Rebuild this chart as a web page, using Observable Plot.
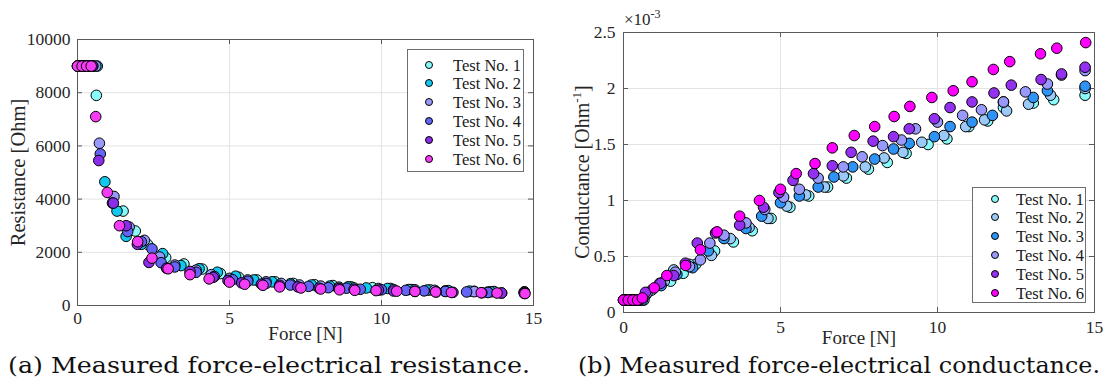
<!DOCTYPE html>
<html><head><meta charset="utf-8">
<script src="https://cdn.jsdelivr.net/npm/d3@7"></script>
<script src="https://cdn.jsdelivr.net/npm/@observablehq/plot@0.6"></script>
<style>
html,body{margin:0;padding:0;background:#fff;}
body{width:1109px;height:390px;overflow:hidden;position:relative;font-family:"Liberation Serif",serif;}
#left{position:absolute;left:0;top:0;}
#right{position:absolute;left:555px;top:0;}
svg g[aria-label$="tick label"] text{font-size:17.5px !important;font-family:"Liberation Serif",serif !important;}
.legend{position:absolute;border:1px solid #6e6e6e;background:#fff;box-sizing:border-box;}
.legend .row{position:absolute;left:0;height:18px;line-height:18px;font:16.5px "Liberation Serif",serif;color:#1a1a1a;white-space:nowrap;}
.legend .mk{position:absolute;width:6px;height:6px;border:1px solid #000;border-radius:50%;top:5px;}
.cap{position:absolute;top:352px;height:26px;line-height:26px;font:23px "DejaVu Serif",serif;color:#111;white-space:nowrap;transform-origin:left center;}
</style>
</head><body>
<div id="left"></div><div id="right"></div>
<div class="cap" id="capA">(a) Measured force-electrical resistance.</div>
<div class="cap" id="capB">(b) Measured force-electrical conductance.</div>
<script>
// ---------- data ----------
const tests = ["Test No. 1","Test No. 2","Test No. 3","Test No. 4","Test No. 5","Test No. 6"];
const colorsResistance = ["#88fafa","#11c8ee","#9999fb","#6464f6","#8a2eea","#f53cf5"];
const colorsConductance = ["#88fafa","#9ccaf8","#2f93f5","#9999fb","#9430f0","#ff00ff"];
const forceTicks = [0,5,10,15];
const resistanceTicks = [0,2000,4000,6000,8000,10000];
const conductanceTicks = [0,0.5,1,1.5,2,2.5]; // x 10^-3

// Force [N]
const force1 = [0.1,0.3,0.5,0.62,1.5,1.9,2.3,2.9,3.5,4.1,4.7,5.3,5.9,6.5,7.1,7.8,8.4,9.0,9.7,10.3,11.0,11.6,12.1,13.05,13.7,14.7];
const force2 = [0,0.2,0.4,0.65,0.9,1.3,1.6,2.1,2.8,3.4,4.0,4.6,5.2,5.8,6.4,7.0,7.7,8.3,8.9,9.5,10.2,10.9,11.5,12.2,12.9,13.6,14.7];
const force3 = [0.05,0.25,0.45,0.6,0.72,1.2,1.7,2.2,2.7,3.2,3.9,4.4,5.0,5.6,6.2,6.7,7.3,8.0,8.6,9.1,9.9,10.4,11.1,11.75,12.1,13.05,13.5,14.7];
const force4 = [0,0.15,0.3,0.5,0.75,1.15,1.65,2.1,2.45,2.75,3.2,3.9,4.5,5.1,5.6,6.2,7.0,7.6,8.25,8.85,9.3,10.0,10.8,11.4,12.1,12.8,13.5,13.95,14.7];
const force5 = [0.05,0.2,0.35,0.5,0.7,1.18,1.6,1.97,2.35,2.93,3.7,4.46,4.95,5.4,6.05,6.65,7.25,7.95,8.6,9.1,9.9,10.4,11.1,11.8,12.35,13.3,13.95,14.7];
const force6 = [0,0.15,0.3,0.45,0.6,0.98,1.38,1.98,2.45,2.98,3.7,4.33,5.0,5.5,6.1,6.65,7.35,8.0,8.62,9.12,9.82,10.5,11.1,11.78,12.3,13.28,13.8,14.72];

// Resistance [Ohm]
const resistance1 = [9000,9000,9000,7900,3550,2800,2300,1800,1560,1370,1200,1060,960,890,830,780,750,700,670,640,600,585,550,535,525,515];
const resistance2 = [9000,9000,9000,9000,4650,3550,2600,2300,1950,1500,1380,1250,1100,960,890,820,770,730,700,660,640,600,580,560,540,515,500];
const resistance3 = [9000,9000,9000,9000,6100,4100,2950,2450,1820,1520,1330,1160,1020,960,890,830,770,730,690,660,640,600,590,570,530,520,505,495];
const resistance4 = [9000,9000,9000,9000,5700,3850,2780,2400,2130,1610,1450,1250,1090,970,910,830,770,720,670,650,610,590,570,550,530,510,490,470,460];
const resistance5 = [9000,9000,9000,9000,5450,3850,3000,2300,1620,1400,1280,1060,940,850,800,760,700,650,640,610,580,545,530,510,495,480,470,455];
const resistance6 = [9000,9000,9000,9000,7100,4250,3000,2400,1780,1380,1160,1000,880,800,760,700,660,620,590,570,560,540,530,510,490,480,470,450];

// Conductance [Ohm^-1] x 10^-3
const conductance1 = [0.111,0.111,0.111,0.126,0.28,0.35,0.43,0.55,0.63,0.73,0.84,0.94,1.04,1.12,1.2,1.28,1.34,1.42,1.5,1.55,1.66,1.71,1.83,1.87,1.9,1.94];
const conductance2 = [0.111,0.111,0.111,0.111,0.2,0.28,0.38,0.43,0.51,0.66,0.76,0.84,0.95,1.05,1.12,1.22,1.3,1.38,1.43,1.52,1.58,1.66,1.72,1.8,1.86,1.94,2.0];
const conductance3 = [0.111,0.111,0.111,0.111,0.16,0.24,0.34,0.4,0.55,0.66,0.75,0.86,0.98,1.04,1.12,1.21,1.3,1.37,1.46,1.51,1.57,1.66,1.7,1.76,1.88,1.92,1.98,2.02];
const conductance4 = [0.111,0.111,0.111,0.111,0.175,0.26,0.36,0.41,0.47,0.62,0.69,0.8,0.92,1.03,1.1,1.2,1.3,1.39,1.49,1.54,1.64,1.7,1.76,1.81,1.88,1.97,2.04,2.12,2.16];
const conductance5 = [0.111,0.111,0.111,0.111,0.18,0.26,0.33,0.44,0.62,0.71,0.78,0.94,1.07,1.18,1.24,1.31,1.43,1.53,1.57,1.64,1.73,1.83,1.88,1.96,2.03,2.08,2.13,2.19];
const conductance6 = [0.111,0.111,0.111,0.111,0.13,0.22,0.33,0.42,0.56,0.72,0.86,1.0,1.1,1.24,1.33,1.47,1.58,1.66,1.75,1.84,1.92,1.98,2.06,2.17,2.24,2.31,2.36,2.41];

const forces = [force1,force2,force3,force4,force5,force6];
const resistances = [resistance1,resistance2,resistance3,resistance4,resistance5,resistance6];
const conductances = [conductance1,conductance2,conductance3,conductance4,conductance5,conductance6];

function table(values){
  return tests.flatMap((t,i)=>forces[i].map((f,j)=>({test:t, force:f, value:values[i][j]})));
}
const resData = table(resistances);
const condData = table(conductances);

// ---------- charts ----------
const GRID = "#e3e3e3", AX = "#5a5a5a", TXT = "#262626";
function makeChart(cfg){
  const plotW = cfg.width - cfg.ml - cfg.mr;
  const plotH = cfg.height - cfg.mt - cfg.mb;
  const tk = 5;
  return Plot.plot({
    width: cfg.width, height: cfg.height,
    marginLeft: cfg.ml, marginRight: cfg.mr, marginTop: cfg.mt, marginBottom: cfg.mb,
    style: {fontFamily:"Liberation Serif", fontSize:"17px", color:TXT, background:"transparent", overflow:"visible"},
    x: {domain:[0,15]},
    y: {domain: cfg.ydomain},
    color: {type:"ordinal", domain: tests, range: cfg.colors},
    marks: [
      Plot.gridX(forceTicks.slice(1,-1), {stroke:GRID, strokeOpacity:1}),
      Plot.gridY(cfg.yticks.slice(1,-1), {stroke:GRID, strokeOpacity:1}),
      Plot.ruleX(forceTicks, {insetTop: plotH - tk, stroke:AX}),
      Plot.ruleX(forceTicks, {insetBottom: plotH - tk, stroke:AX}),
      Plot.ruleY(cfg.yticks, {insetRight: plotW - tk, stroke:AX}),
      Plot.ruleY(cfg.yticks, {insetLeft: plotW - tk, stroke:AX}),
      Plot.frame({stroke:AX}),
      Plot.axisX(forceTicks, {tickSize:0, tickPadding:cfg.xpad, label:null, fontSize:17.5, fill:TXT}),
      Plot.axisY(cfg.yticks, {tickSize:0, tickPadding:cfg.ypad, label:null, fontSize:17.5, fill:TXT, tickFormat: d=>String(d)}),
      Plot.dot(cfg.data, {x:"force", y:"value", fill:"test", r:5.3, stroke:"#000", strokeWidth:1}),
      Plot.text(["Force [N]"], {frameAnchor:"bottom", lineAnchor:"middle", textAnchor:"middle", dy: cfg.xlabDy, fontSize:19, fill:TXT}),
      ...(cfg.ylabel ? [Plot.text([cfg.ylabel], {frameAnchor:"left", lineAnchor:"middle", textAnchor:"middle", dx: cfg.ylabDx, rotate:-90, fontSize:20.5, fill:TXT})] : [])
    ]
  });
}

const leftSvg = makeChart({width:555, height:345, ml:77, mr:22, mt:39, mb:40, ydomain:[0,10000], yticks:resistanceTicks,
  colors:colorsResistance, data:resData, xpad:6, ypad:7, xlabDy:28, ylabel:"Resistance [Ohm]", ylabDx:-59});
document.getElementById("left").appendChild(leftSvg);

const rightSvg = makeChart({width:554, height:345, ml:68, mr:15, mt:32, mb:33, ydomain:[0,2.5], yticks:conductanceTicks,
  colors:colorsConductance, data:condData, xpad:8, ypad:8, xlabDy:25, ylabel:null});
document.getElementById("right").appendChild(rightSvg);

// y label with superscript and exponent note on the right chart
const rs = d3.select(rightSvg);
const yl = rs.append("text").attr("transform","translate(28,172) rotate(-90)").attr("text-anchor","middle")
  .attr("dy","0.32em").attr("font-family","Liberation Serif").attr("font-size",20).attr("fill",TXT);
yl.append("tspan").text("Conductance [Ohm");
yl.append("tspan").attr("font-size",13).attr("dy",-8).text("-1");
yl.append("tspan").attr("dy",8).text("]");
const ex = rs.append("text").attr("x",69).attr("y",25).attr("text-anchor","start")
  .attr("font-family","Liberation Serif").attr("font-size",17).attr("fill",TXT);
ex.append("tspan").text("\u00d710");
ex.append("tspan").attr("font-size",12).attr("dy",-7).text("-3");

// ---------- legends ----------
function legend(box, colors){
  const el = document.createElement("div");
  el.className = "legend";
  Object.assign(el.style, {left:box.x+"px", top:box.y+"px", width:box.w+"px", height:box.h+"px"});
  tests.forEach((t,i)=>{
    const row = document.createElement("div");
    row.className = "row";
    row.style.top = (box.first + i*box.step - 9) + "px";
    const mk = document.createElement("span");
    mk.className = "mk"; mk.style.left = (box.mx-4)+"px"; mk.style.background = colors[i];
    const tx = document.createElement("span");
    tx.style.position="absolute"; tx.style.left = box.tx+"px"; tx.textContent = t;
    row.appendChild(mk); row.appendChild(tx); el.appendChild(row);
  });
  document.body.appendChild(el);
}
legend({x:407,y:49,w:117,h:123,first:14.5,step:18.8,mx:21,tx:45}, colorsResistance);
legend({x:972,y:187,w:114,h:116,first:10.5,step:18.8,mx:22,tx:43}, colorsConductance);

// ---------- captions ----------
function fitCaption(id, x0, x1){
  const el = document.getElementById(id);
  const w = el.getBoundingClientRect().width;
  el.style.left = x0 + "px";
  el.style.transform = "scaleX(" + ((x1-x0)/w) + ")";
}
fitCaption("capA", 8, 530);
fitCaption("capB", 578, 1100);
</script>
</body></html>
